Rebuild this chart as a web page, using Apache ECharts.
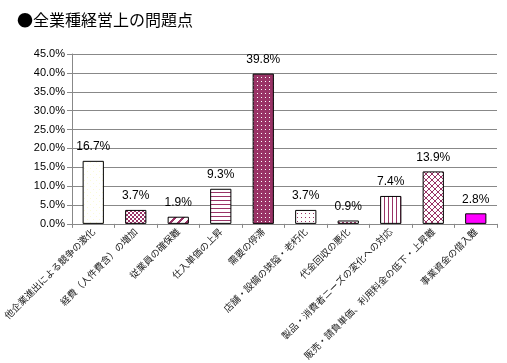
<!DOCTYPE html>
<html><head><meta charset="utf-8">
<script src="https://cdn.jsdelivr.net/npm/echarts@6/dist/echarts.min.js"></script>
<style>html,body{margin:0;padding:0;background:#fff}#c{width:507px;height:363px}</style>
</head><body><div id="c"></div>
<script>
const titleText = '●全業種経営上の問題点';
const categories = ['他企業進出による競争の激化','経費（人件費含）の増加','従業員の確保難','仕入単価の上昇','需要の停滞','店舗・設備の狭隘・老朽化','代金回収の悪化','製品・消費者ニーズの変化への対応','販売・請負単価、利用料金の低下・上昇難','事業資金の借入難'];
const values = [16.7, 3.7, 1.9, 9.3, 39.8, 3.7, 0.9, 7.4, 13.9, 2.8];
const yMin = 0, yMax = 45, yStep = 5;

const PL = '#993366';
function pat(w, h, bg, fg, draw) {
  const c = document.createElement('canvas'); c.width = w; c.height = h;
  const g = c.getContext('2d'); g.fillStyle = bg; g.fillRect(0, 0, w, h);
  g.fillStyle = fg; draw(g); return {image: c, repeat: 'repeat'};
}
const fills = [
  pat(6, 6, '#ffffff', '#fbfbd8', g => { g.fillRect(0, 0, 1, 1); g.fillRect(3, 3, 1, 1); }),
  pat(4, 4, '#ffffff', PL, g => { g.fillRect(0, 0, 2, 2); g.fillRect(2, 2, 2, 2); g.fillRect(1,1,1,1); }),
  pat(8, 8, '#ffffff', PL, g => { for (let i = 0; i < 8; i++) { g.fillRect((i + 0) % 8, 7 - i, 3, 1); g.fillRect((i + 8) % 8 - 8, 7 - i, 3, 1);} }),
  pat(4, 4, '#ffffff', PL, g => { g.fillRect(0, 0, 4, 1); }),
  pat(4, 4, PL, '#ffffff', g => { g.fillRect(1, 1, 1, 1); }),
  pat(4, 4, '#ffffff', PL, g => { g.fillRect(1, 1, 1, 1); }),
  pat(4, 4, '#ffffff', PL, g => { g.fillRect(0, 0, 2, 1); g.fillRect(2, 2, 2, 1); }),
  pat(4, 4, '#ffffff', PL, g => { g.fillRect(0, 0, 1, 4); }),
  pat(6, 6, '#ffffff', PL, g => { for (let i = 0; i < 6; i++) { g.fillRect(i, i, 1, 1); g.fillRect(5 - i, i, 1, 1); } }),
  '#ff00ff'
];

const chart = echarts.init(document.getElementById('c'), null, {renderer: 'canvas'});
chart.setOption({
  animation: false,
  title: {text: titleText, left: 12, top: 7, textStyle: {fontSize: 16, fontWeight: 'normal', color: '#000', fontFamily: '"Noto Sans CJK JP", sans-serif'}},
  grid: {left: 72, right: 10, top: 54, bottom: 138, containLabel: false},
  xAxis: {
    type: 'category', data: categories,
    axisLine: {lineStyle: {color: '#888', width: 1}},
    axisTick: {show: true, length: 4, lineStyle: {color: '#888'}},
    axisLabel: {rotate: 45, interval: 0, fontSize: 9.5, color: '#222', margin: 6, fontFamily: '"Noto Sans CJK JP", sans-serif'}
  },
  yAxis: {
    type: 'value', min: yMin, max: yMax, interval: yStep,
    axisLine: {show: true, lineStyle: {color: '#888'}},
    axisTick: {show: true, length: 5, lineStyle: {color: '#888'}},
    splitLine: {lineStyle: {color: '#888', width: 1}},
    axisLabel: {formatter: v => v.toFixed(1) + '%', fontSize: 11, color: '#000', margin: 7, fontFamily: '"Liberation Sans", Arial, sans-serif'}
  },
  series: [{
    type: 'bar', barWidth: '50%',
    data: values.map((v, i) => ({value: v, itemStyle: {color: fills[i]}})),
    itemStyle: {borderColor: '#000', borderWidth: 1},
    label: {show: true, position: 'top', distance: 8, formatter: p => p.value.toFixed(1) + '%', fontSize: 12, color: '#000', fontFamily: '"Liberation Sans", Arial, sans-serif'}
  }]
});
</script></body></html>
